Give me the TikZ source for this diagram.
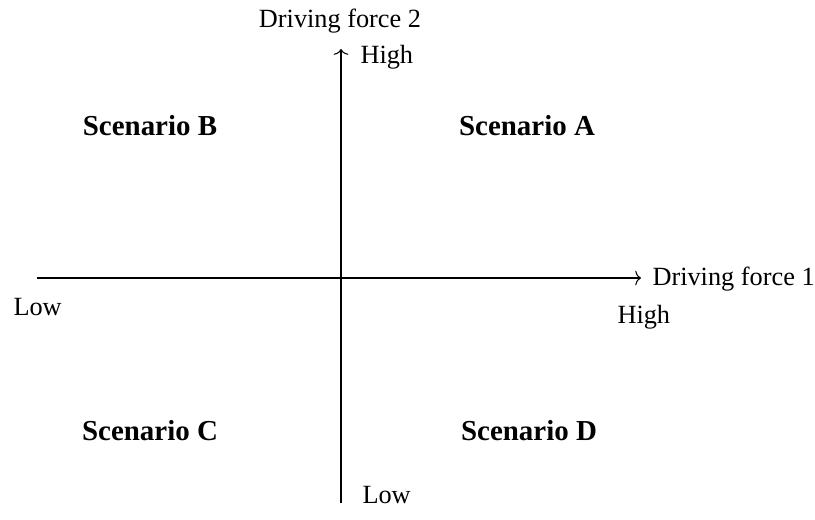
\documentclass[tikz,border=0pt]{standalone}
\usepackage{fontspec}
\setmainfont{Liberation Serif}
\usetikzlibrary{arrows.meta}
\begin{document}
\begin{tikzpicture}[x=0.3803pt,y=-0.3803pt,
  lbl/.style={inner sep=0pt,font=\fontsize{10}{12}\selectfont},
  scen/.style={inner sep=0pt,anchor=base,font=\fontsize{11}{13}\selectfont\bfseries},
  axis/.style={-{To[length=2.2pt,width=5.6pt]},line width=0.4pt}]
\useasboundingbox (0,0) rectangle (815,519);
\coordinate (xl) at (37,278);
\coordinate (xr) at (641,278);
\coordinate (yb) at (341,503);
\coordinate (yt) at (341,49);
\draw[axis] (xl) -- (xr);
\draw[axis] (yb) -- (yt);
\node[lbl,anchor=base] (df2) at (340,27) {Driving force 2};
\node[lbl,anchor=base west] (hi2) at (360,63) {High};
\node[lbl,anchor=base west] (df1) at (652,285) {Driving force 1};
\node[lbl,anchor=base west] (hi1) at (617,323) {High};
\node[lbl,anchor=base west] (lo1) at (13,315) {Low};
\node[lbl,anchor=base west] (lo2) at (362,503) {Low};
\node[scen] (sb) at (150,135) {Scenario B};
\node[scen] (sa) at (527,135) {Scenario A};
\node[scen] (sc) at (150,440) {Scenario C};
\node[scen] (sd) at (529,440) {Scenario D};
\end{tikzpicture}
\end{document}
